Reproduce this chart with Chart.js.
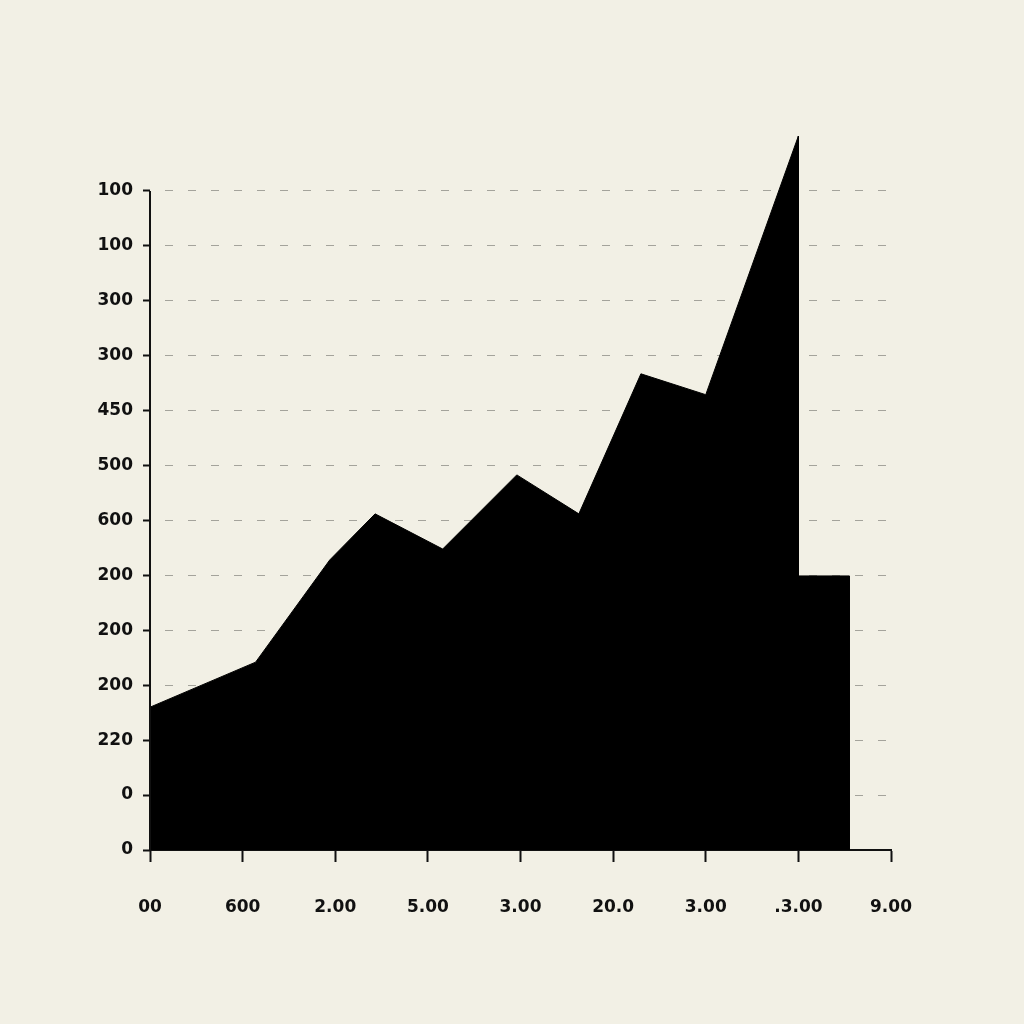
<!DOCTYPE html>
<html>
<head>
<meta charset="utf-8">
<script src="https://cdn.jsdelivr.net/npm/chart.js@4"></script>
<style>
  html, body { margin: 0; padding: 0; background: #f2f0e5; }
  #wrap { width: 1024px; height: 1024px; }
</style>
</head>
<body>
<div id="wrap"><canvas id="areaChart" width="1024" height="1024"></canvas></div>
<script>
// data
const xValues = [0, 1.14, 1.94, 2.43, 3.16, 3.96, 4.63, 5.3, 6.0, 7.0, 7.0, 7.55, 7.55];
const yValues = [2.6, 3.42, 5.28, 6.12, 5.48, 6.83, 6.12, 8.67, 8.29, 13.0, 4.99, 4.99, 0];
const xTickLabels = ["00", "600", "2.00", "5.00", "3.00", "20.0", "3.00", ".3.00", "9.00"];
const yTickLabels = ["0", "0", "220", "200", "200", "200", "600", "500", "450", "300", "300", "100", "100"];

const points = xValues.map((x, i) => ({ x: x, y: yValues[i] }));

// y axis line only spans the labelled range
const yAxisLine = {
  id: "yAxisLine",
  afterDraw(chart) {
    const { ctx, scales } = chart;
    const x = scales.x.getPixelForValue(0);
    ctx.save();
    ctx.strokeStyle = "#111";
    ctx.lineWidth = 2;
    ctx.beginPath();
    ctx.moveTo(x, scales.y.getPixelForValue(12));
    ctx.lineTo(x, scales.y.getPixelForValue(0));
    ctx.stroke();
    ctx.restore();
  },
};

const tickFont = { family: "DejaVu Sans", size: 17, weight: "bold" };

const ctx = document.getElementById("areaChart").getContext("2d");
const areaChart = new Chart(ctx, {
  type: "line",
  data: {
    datasets: [
      {
        data: points,
        borderColor: "#000",
        backgroundColor: "#000",
        borderWidth: 1,
        fill: "origin",
        tension: 0,
        pointRadius: 0,
        clip: false,
      },
    ],
  },
  options: {
    responsive: false,
    animation: false,
    layout: { padding: { top: 136, right: 133, left: 0, bottom: 0 } },
    plugins: { legend: { display: false }, tooltip: { enabled: false } },
    scales: {
      x: {
        type: "linear",
        min: 0,
        max: 8,
        afterFit: (scale) => { scale.height = 174; },
        ticks: {
          stepSize: 1,
          padding: 35,
          color: "#111",
          font: tickFont,
          maxRotation: 0,
          callback: (v) => xTickLabels[v],
        },
        grid: {
          drawOnChartArea: false,
          drawTicks: true,
          tickLength: 12,
          tickColor: "#111",
          tickWidth: 2,
        },
        border: { display: true, color: "#111", width: 2 },
      },
      y: {
        type: "linear",
        min: 0,
        max: 13,
        afterFit: (scale) => { scale.width = 150; },
        ticks: {
          stepSize: 1,
          padding: 10,
          color: "#111",
          font: tickFont,
          callback: (v) => (v <= 12 ? yTickLabels[v] : null),
        },
        grid: {
          color: "#a4a39b",
          lineWidth: 1,
          tickLength: 7,
          tickColor: "#111",
          tickWidth: 2,
          tickBorderDash: [],
        },
        border: { display: false, dash: [8, 15], dashOffset: 8 },
      },
    },
  },
  plugins: [yAxisLine],
});
</script>
</body>
</html>
